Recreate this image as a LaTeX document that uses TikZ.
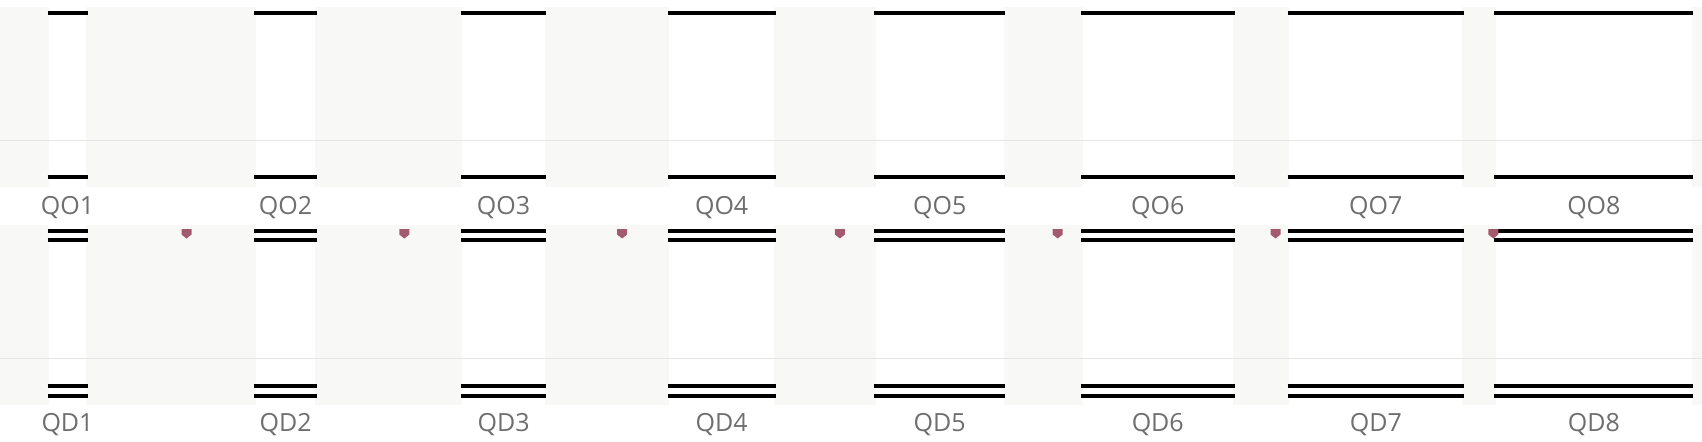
\documentclass[tikz,border=0pt]{standalone}
\usepackage{fontspec}
\setmainfont{Open Sans}

\definecolor{bandgray}{HTML}{F8F8F6}
\definecolor{gridgray}{HTML}{E6E6E4}
\definecolor{labelgray}{HTML}{6E6E6E}
\definecolor{markred}{HTML}{A35A6E}

\begin{document}
\begin{tikzpicture}[
  x=0.5pt, y=-0.5pt,
  band/.style={fill=bandgray},
  slot/.style={fill=white},
  bar/.style={line width=2pt, black},
  gridline/.style={draw=gridgray, line width=0.5pt},
  qlabel/.style={text=labelgray, font=\fontsize{12.5}{14}\selectfont, inner sep=0pt},
  marker/.style={fill=markred, draw=none}
]

\useasboundingbox (0,0) rectangle (1702,441);
\fill[white] (0,0) rectangle (1702,441);

% =========================
% Bands (QO row, QD row)
% =========================
\fill[band] (0,7) rectangle (1702,187);
\fill[band] (0,225) rectangle (1702,405);

% white slots
\foreach \i in {1,...,8} {
  \pgfmathsetmacro{\xa}{49+206.7*(\i-1)}
  \pgfmathsetmacro{\xb}{\xa+37+22.7*(\i-1)}
  \fill[slot] (\xa,7) rectangle (\xb,187);
  \fill[slot] (\xa,225) rectangle (\xb,405);
}

% faint grid lines
\draw[gridline] (0,140) -- (1702,140);
\draw[gridline] (0,358) -- (1702,358);

% =========================
% Bars and labels
% =========================
\foreach \i in {1,...,8} {
  \pgfmathsetmacro{\xa}{49+206.7*(\i-1)-1.5}
  \pgfmathsetmacro{\xb}{49+206.7*(\i-1)+37+22.7*(\i-1)+1.5}
  \pgfmathsetmacro{\xm}{(\xa+\xb)/2}
  % single bars (QO)
  \draw[bar] (\xa,13) -- (\xb,13);
  \draw[bar] (\xa,177) -- (\xb,177);
  % double bars (QD)
  \draw[bar] (\xa,231) -- (\xb,231);
  \draw[bar] (\xa,240) -- (\xb,240);
  \draw[bar] (\xa,386) -- (\xb,386);
  \draw[bar] (\xa,395.5) -- (\xb,395.5);
  % labels
  \node[qlabel] (qo\i) at (\xm,207.5) {QO\i};
  \node[qlabel] (qd\i) at (\xm,424.5) {QD\i};
}

% =========================
% Markers (QD row)
% =========================
\foreach \i in {1,...,7} {
  \pgfmathsetmacro{\xc}{186.5+217.8*(\i-1)}
  \fill[marker] (\xc-5,229) -- (\xc+5,229) -- (\xc+5,234.5)
    -- (\xc,238.5) -- (\xc-5,234.5) -- cycle;
}

\end{tikzpicture}
\end{document}
